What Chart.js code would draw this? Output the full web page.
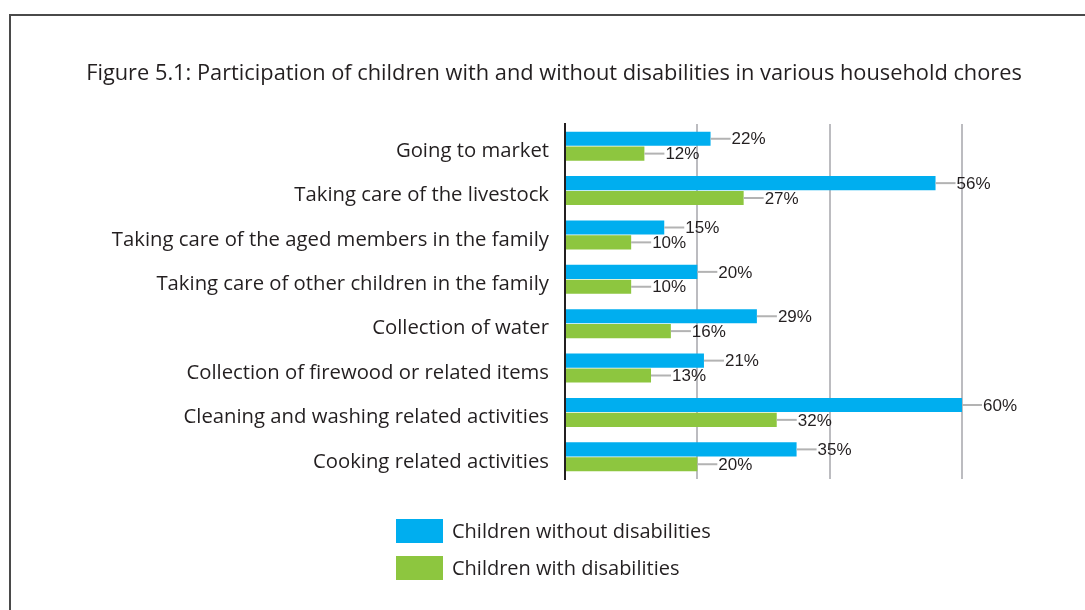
<!DOCTYPE html>
<html>
<head>
<meta charset="utf-8">
<script src="https://cdn.jsdelivr.net/npm/chart.js@4/dist/chart.umd.min.js"></script>
<style>
html,body{margin:0;padding:0;background:#fff;}
#wrap{width:1085px;height:610px;position:relative;}
</style>
</head>
<body>
<div id="wrap"><canvas id="c" width="1085" height="610"></canvas></div>
<script>
const titleText = "Figure 5.1: Participation of children with and without disabilities in various household chores";
const categories = [
  "Going to market",
  "Taking care of the livestock",
  "Taking care of the aged members in the family",
  "Taking care of other children in the family",
  "Collection of water",
  "Collection of firewood or related items",
  "Cleaning and washing related activities",
  "Cooking related activities"
];
const seriesNames = ["Children without disabilities", "Children with disabilities"];
const withoutDisabilities = [22, 56, 15, 20, 29, 21, 60, 35];
const withDisabilities = [12, 27, 10, 10, 16, 13, 32, 20];
const xTicks = [0, 20, 40, 60];

const FONT = "'Open Sans', 'Liberation Sans', Arial, sans-serif";
const NUMFONT = "'Liberation Sans', Arial, sans-serif";
const TEXT = "#231f20";
const BLUE = "#00aeef";
const GREEN = "#8dc63f";

const framePlugin = {
  id: 'frame',
  beforeDraw(chart) {
    const ctx = chart.ctx;
    ctx.save();
    ctx.strokeStyle = '#4a4a4a';
    ctx.lineWidth = 2;
    ctx.beginPath();
    ctx.moveTo(10, 610);
    ctx.lineTo(10, 15);
    ctx.lineTo(1085, 15);
    ctx.stroke();
    // figure title
    ctx.fillStyle = TEXT;
    ctx.font = "21.8px " + FONT;
    ctx.textBaseline = 'middle';
    ctx.textAlign = 'center';
    ctx.fillText(titleText, 554, 74);
    ctx.restore();
  }
};

const labelPlugin = {
  id: 'valueLabels',
  afterDatasetsDraw(chart) {
    const ctx = chart.ctx;
    ctx.save();
    chart.data.datasets.forEach((ds, di) => {
      const meta = chart.getDatasetMeta(di);
      meta.data.forEach((bar, i) => {
        const x = bar.x, y = bar.y;
        ctx.strokeStyle = '#b3b3b3';
        ctx.lineWidth = 2;
        ctx.beginPath();
        ctx.moveTo(x, y);
        ctx.lineTo(x + 20, y);
        ctx.stroke();
        ctx.fillStyle = TEXT;
        ctx.font = "17px " + NUMFONT;
        ctx.textBaseline = 'middle';
        ctx.textAlign = 'left';
        ctx.fillText(ds.data[i] + '%', x + 21, y + 1);
      });
    });
    ctx.restore();
  }
};

const legendPlugin = {
  id: 'customLegend',
  afterDraw(chart) {
    const ctx = chart.ctx;
    ctx.save();
    chart.data.datasets.forEach((ds, di) => {
      const top = 519 + di * 37;
      ctx.fillStyle = ds.backgroundColor;
      ctx.fillRect(396, top, 47, 24);
      ctx.fillStyle = TEXT;
      ctx.font = "20px " + FONT;
      ctx.textBaseline = 'middle';
      ctx.textAlign = 'left';
      ctx.fillText(ds.label, 452, top + 13);
    });
    ctx.restore();
  }
};

new Chart(document.getElementById('c'), {
  type: 'bar',
  data: {
    labels: categories,
    datasets: [
      { label: seriesNames[0], data: withoutDisabilities, backgroundColor: BLUE, borderWidth: 0,
        barPercentage: 0.95, categoryPercentage: 0.67 },
      { label: seriesNames[1], data: withDisabilities, backgroundColor: GREEN, borderWidth: 0,
        barPercentage: 0.95, categoryPercentage: 0.67 }
    ]
  },
  options: {
    indexAxis: 'y',
    responsive: false,
    animation: false,
    layout: { padding: { top: 124, right: 123, bottom: 131, left: 0 } },
    plugins: {
      legend: { display: false },
      tooltip: { enabled: false },
      title: { display: false }
    },
    scales: {
      x: {
        min: 0, max: 60,
        afterBuildTicks(scale) { scale.ticks = xTicks.map(v => ({ value: v })); },
        ticks: { display: false },
        grid: {
          drawTicks: false,
          lineWidth: 2,
          color: ctx => (ctx.tick && ctx.tick.value === 0) ? 'rgba(0,0,0,0)' : '#bcbcc0'
        },
        border: { display: false }
      },
      y: {
        afterFit(scale) { scale.width = 565; },
        ticks: { color: TEXT, font: { family: FONT, size: 20.3 }, padding: 16, labelOffset: 5 },
        grid: { display: false, drawTicks: false },
        border: { display: true, color: TEXT, width: 2 }
      }
    }
  },
  plugins: [framePlugin, labelPlugin, legendPlugin]
});
</script>
</body>
</html>
